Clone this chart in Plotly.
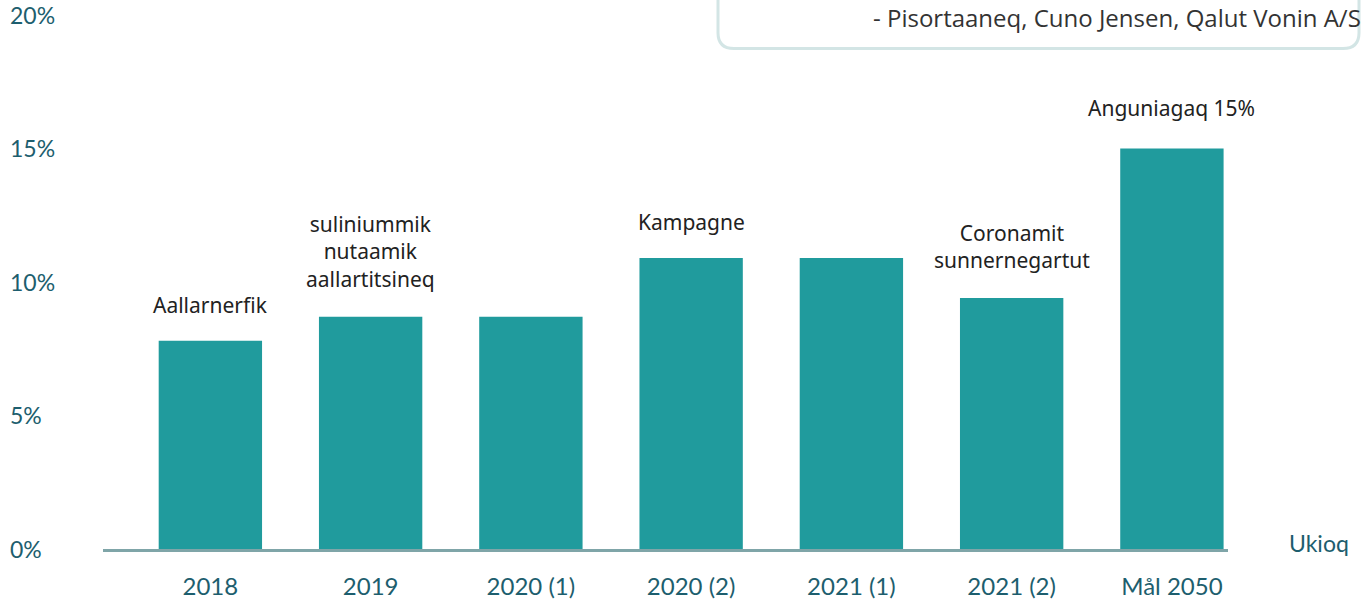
import plotly.graph_objects as go

categories = ["2018", "2019", "2020 (1)", "2020 (2)", "2021 (1)", "2021 (2)", "Mål 2050"]
values = [7.8, 8.7, 8.7, 10.9, 10.9, 9.4, 15.0]
notes = ["Aallarnerfik", "suliniummik<br>nutaamik<br>aallartitsineq", "", "Kampagne", "",
         "Coronamit<br>sunnernegartut", "Anguniagaq 15%"]
y_tick_vals = [0, 5, 10, 15, 20]
y_tick_text = ["0%", "5%", "10%", "15%", "20%"]
x_title = "Ukioq"
quote_source = "- Pisortaaneq, Cuno Jensen, Qalut Vonin A/S"

BAR = "#209b9d"
TEAL_TEXT = "#1d5e6e"
W, H = 1361, 600
L, R, T, B = 103, 133, 0, 45
pw, ph = W - L - R, H - T - B


def px(x):
    return (x - L) / pw


def py(y):
    return (H - B - y) / ph


fig = go.Figure()
fig.add_trace(go.Bar(x=categories, y=values, marker=dict(color=BAR, line=dict(width=0)),
                     width=0.645, hoverinfo="skip"))

annotations = []
for i, (v, n) in enumerate(zip(values, notes)):
    if n:
        shift = 22 if "<br>" in n else (24 if v >= 15 else 20)
        annotations.append(dict(x=i, y=v, xref="x", yref="y", text=n, showarrow=False,
                                yanchor="bottom", yshift=shift,
                                font=dict(family="Noto Sans", size=21, color="#222222")))
for tv, tt in zip(y_tick_vals, y_tick_text):
    annotations.append(dict(x=px(8), y=tv, xref="paper", yref="y", text=tt, showarrow=False,
                            xanchor="left", yanchor="middle",
                            font=dict(family="Lato", size=23, color=TEAL_TEXT)))
annotations.append(dict(x=px(1287), y=py(549), xref="paper", yref="paper", text=x_title,
                        showarrow=False, xanchor="left", yanchor="middle",
                        font=dict(family="Lato", size=23, color=TEAL_TEXT)))
annotations.append(dict(x=px(1363), y=py(18), xref="paper", yref="paper", text=quote_source,
                        showarrow=False, xanchor="right", yanchor="middle",
                        font=dict(family="Open Sans", size=24, color="#333333")))

# rounded quote box (top right)
x0, x1, yb, yt = px(718), px(1359), py(49), py(-20)
rx, ry = 16 / pw, 16 / ph
path = (f"M {x0},{yt} L {x0},{yb + ry} Q {x0},{yb} {x0 + rx},{yb} "
        f"L {x1 - rx},{yb} Q {x1},{yb} {x1},{yb + ry} L {x1},{yt}")
shapes = [dict(type="path", xref="paper", yref="paper", path=path,
               line=dict(color="#d3e5e5", width=3))]

fig.update_layout(
    width=W, height=H,
    margin=dict(l=L, r=R, t=T, b=B),
    paper_bgcolor="white", plot_bgcolor="white",
    showlegend=False,
    xaxis=dict(type="category", range=[-0.67, 6.35], showline=True, linecolor="#7fa5a8",
               linewidth=3, showgrid=False, zeroline=False, ticks="",
               tickfont=dict(family="Lato", size=24, color=TEAL_TEXT),
               ticklabelstandoff=14, fixedrange=True),
    yaxis=dict(range=[0, ph / 27.0], showgrid=False, zeroline=False, showticklabels=False,
               showline=False, fixedrange=True),
    annotations=annotations,
    shapes=shapes,
)

fig.write_html("out.html")
